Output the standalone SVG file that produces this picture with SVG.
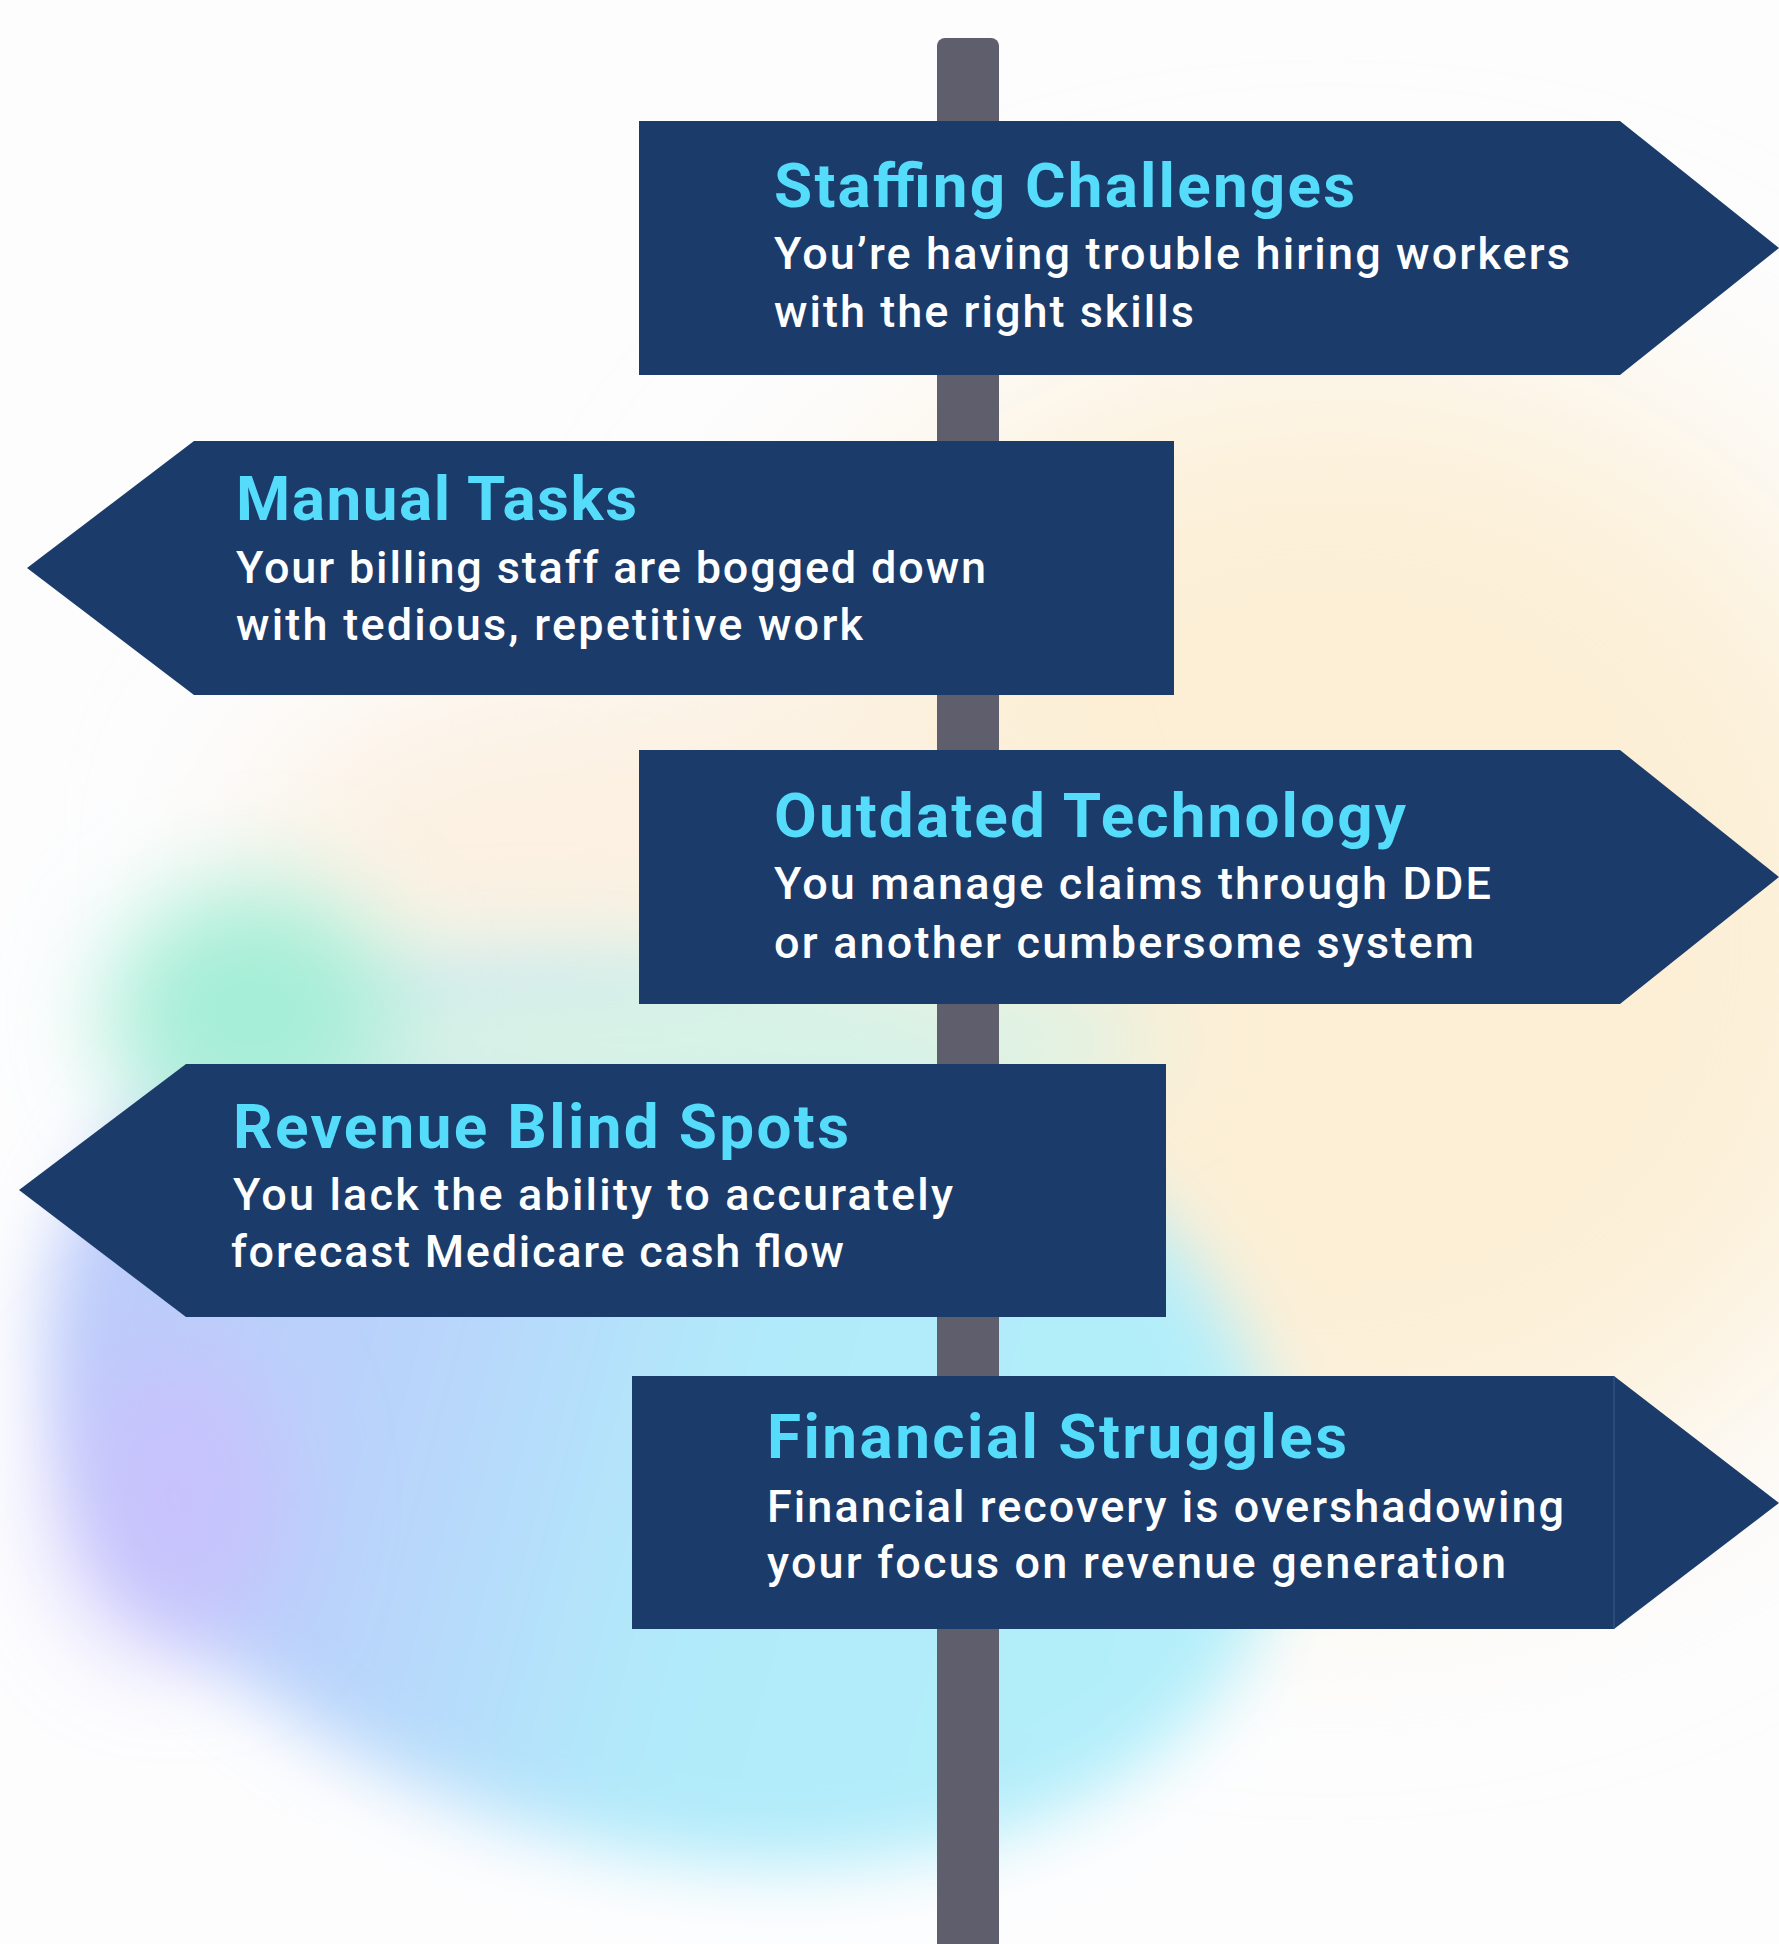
<svg xmlns="http://www.w3.org/2000/svg" width="1779" height="1944" viewBox="0 0 1779 1944">
<style>
.sign{fill:#1b3c6b}
.title{font-family:Roboto,"Liberation Sans",sans-serif;font-weight:700;font-size:62px;fill:#55dcfa}
.body{font-family:Roboto,"Liberation Sans",sans-serif;font-weight:500;font-size:45px;fill:#ffffff}
.pole{fill:#5f5e6c}
</style>
<defs>
<filter id="b120" x="-60%" y="-60%" width="220%" height="220%"><feGaussianBlur stdDeviation="120"/></filter>
<filter id="b80" x="-60%" y="-60%" width="220%" height="220%"><feGaussianBlur stdDeviation="80"/></filter>
<filter id="b50" x="-60%" y="-60%" width="220%" height="220%"><feGaussianBlur stdDeviation="50"/></filter>
<filter id="b35" x="-40%" y="-40%" width="180%" height="180%"><feGaussianBlur stdDeviation="35"/></filter>
<linearGradient id="cool" x1="0" y1="0" x2="1" y2="0">
<stop offset="0" stop-color="#bccafa"/>
<stop offset="0.3" stop-color="#b9d4fb"/>
<stop offset="0.55" stop-color="#b1eafa"/>
<stop offset="1" stop-color="#b3effa"/>
</linearGradient>
</defs>
<rect width="1779" height="1944" fill="#fdfdfe"/>
<g id="background">
<ellipse cx="1330" cy="940" rx="620" ry="600" fill="#fcefd6" filter="url(#b120)"/>
<ellipse cx="620" cy="860" rx="380" ry="200" fill="#fcf1e2" filter="url(#b80)"/>
<ellipse cx="665" cy="1420" rx="630" ry="430" transform="rotate(15 665 1420)" fill="url(#cool)" filter="url(#b35)"/>
<ellipse cx="640" cy="1040" rx="520" ry="90" fill="#d9f3e6" filter="url(#b50)"/>
<ellipse cx="250" cy="1010" rx="140" ry="125" fill="#a5eed7" filter="url(#b50)"/>
<ellipse cx="175" cy="1500" rx="110" ry="150" fill="#c8c2fc" filter="url(#b50)"/>
</g>
<rect id="pole" class="pole" x="937" y="38" width="62" height="1930" rx="8"/>
<g id="connectors"/>
<g id="staffing">
<polygon class="sign" points="639,121 1620,121 1779,248 1620,375 639,375"/>
<text class="title" x="774" y="207" textLength="581" lengthAdjust="spacing">Staffing Challenges</text>
<text class="body" x="774" y="269" textLength="796" lengthAdjust="spacing">You’re having trouble hiring workers</text>
<text class="body" x="774" y="327" textLength="420" lengthAdjust="spacing">with the right skills</text>
</g>
<g id="manual">
<polygon class="sign" points="27,568 194,441 1174,441 1174,695 194,695"/>
<text class="title" x="236" y="520" textLength="401" lengthAdjust="spacing">Manual Tasks</text>
<text class="body" x="236" y="583" textLength="750" lengthAdjust="spacing">Your billing staff are bogged down</text>
<text class="body" x="236" y="640" textLength="627" lengthAdjust="spacing">with tedious, repetitive work</text>
</g>
<g id="outdated">
<polygon class="sign" points="639,750 1620,750 1779,877 1620,1004 639,1004"/>
<text class="title" x="774" y="837" textLength="632" lengthAdjust="spacing">Outdated Technology</text>
<text class="body" x="774" y="899" textLength="717" lengthAdjust="spacing">You manage claims through DDE</text>
<text class="body" x="774" y="958" textLength="700" lengthAdjust="spacing">or another cumbersome system</text>
</g>
<g id="revenue">
<polygon class="sign" points="19,1190 186,1064 1166,1064 1166,1317 186,1317"/>
<text class="title" x="233" y="1148" textLength="616" lengthAdjust="spacing">Revenue Blind Spots</text>
<text class="body" x="233" y="1210" textLength="720" lengthAdjust="spacing">You lack the ability to accurately</text>
<text class="body" x="231" y="1267" textLength="613" lengthAdjust="spacing">forecast Medicare cash flow</text>
</g>
<g id="financial">
<rect class="sign" x="632" y="1376" width="982" height="253"/>
<polygon class="sign" points="1614,1376 1779,1503 1614,1629"/>
<line x1="1614" y1="1376" x2="1614" y2="1629" stroke="#3d5a85" stroke-width="1"/>
<text class="title" x="767" y="1458" textLength="580" lengthAdjust="spacing">Financial Struggles</text>
<text class="body" x="767" y="1522" textLength="797" lengthAdjust="spacing">Financial recovery is overshadowing</text>
<text class="body" x="767" y="1578" textLength="739" lengthAdjust="spacing">your focus on revenue generation</text>
</g>
</svg>
